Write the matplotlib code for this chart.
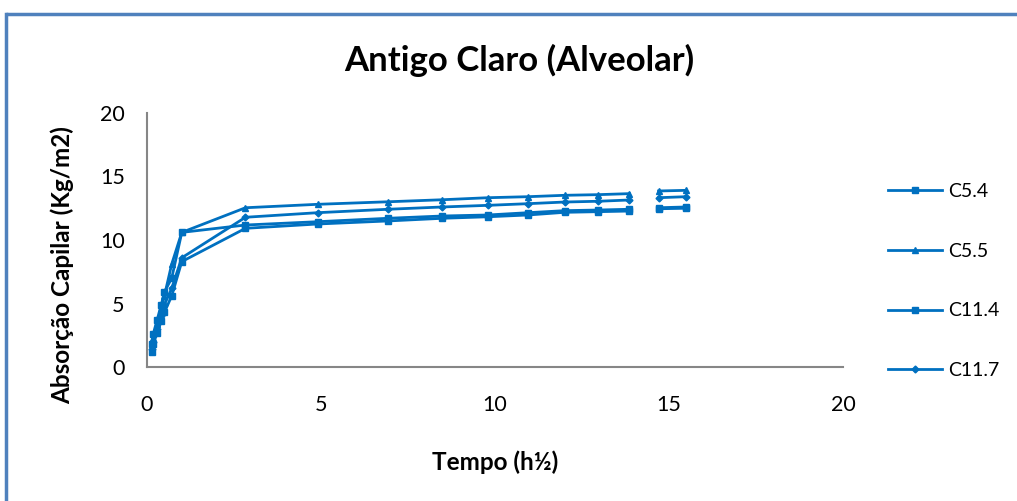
import numpy as np
import matplotlib
matplotlib.use("Agg")
import matplotlib.pyplot as plt
from matplotlib.lines import Line2D

nan = np.nan
tempo = [0.13, 0.18, 0.29, 0.41, 0.50, 0.71, 1.00, 2.83, 4.90, 6.93, 8.49, 9.80,
         10.95, 12.00, 12.96, 13.86, 14.30, 14.70, 15.49]

c54 = [1.2, 1.8, 2.7, 3.6, 4.3, 5.6, 8.3, 10.92, 11.26, 11.50, 11.71, 11.83,
       11.97, 12.18, 12.23, 12.28, nan, 12.46, 12.50]
c55 = [1.6, 2.3, 3.4, 4.6, 5.6, 8.1, 10.6, 12.54, 12.81, 13.01, 13.17, 13.33,
       13.41, 13.52, 13.57, 13.65, nan, 13.86, 13.91]
c114 = [1.8, 2.6, 3.7, 4.9, 5.9, 7.0, 10.6, 11.18, 11.44, 11.71, 11.89, 11.97,
        12.15, 12.31, 12.36, 12.42, nan, 12.54, 12.60]
c117 = [1.4, 2.0, 3.0, 4.0, 4.9, 6.2, 8.6, 11.79, 12.15, 12.42, 12.60, 12.73,
        12.86, 12.99, 13.05, 13.15, nan, 13.33, 13.41]

series = [("C5.4", c54, "s", 5), ("C5.5", c55, "^", 5),
          ("C11.4", c114, "s", 5), ("C11.7", c117, "D", 3.5)]

font = "Lato"
blue = "#0070C0"
W, H = 1017, 501

fig = plt.figure(figsize=(10.17, 5.01), dpi=100)
ax = fig.add_axes([147/W, (H-367)/H, (843-147)/W, (367-113)/H])

for name, vals, mk, ms in series:
    ax.plot(tempo, vals, color=blue, lw=2, marker=mk, ms=ms, label=name)

ax.set_xlim(0, 20)
ax.set_ylim(0, 20)
ax.set_xticks([0, 5, 10, 15, 20])
ax.set_yticks([0, 5, 10, 15, 20])
for s in ["top", "right"]:
    ax.spines[s].set_visible(False)
for s in ["left", "bottom"]:
    ax.spines[s].set_color("#868686")
    ax.spines[s].set_linewidth(1.5)
ax.tick_params(axis="x", length=0, labelsize=15.5, pad=20)
ax.tick_params(axis="y", length=0, labelsize=15.5, pad=16)
for lab in ax.get_xticklabels() + ax.get_yticklabels():
    lab.set_fontfamily(font)

fig.text(495/W, 1-462/H, "Tempo (h½)", ha="center", va="center",
         fontsize=17.5, fontweight="bold", family=font)
fig.text(62/W, 1-265/H, "Absorção Capilar (Kg/m2)", ha="center", va="center",
         rotation=90, fontsize=17.5, fontweight="bold", family=font)
fig.text(519/W, 1-60/H, "Antigo Claro (Alveolar)", ha="center", va="center",
         fontsize=25, fontweight="bold", family=font)

leg = ax.legend(loc="center left", bbox_to_anchor=(870/W, 1-281/H), bbox_transform=fig.transFigure,
                frameon=False, prop={"family": font, "size": 14}, labelspacing=2.2,
                handlelength=2.8, handletextpad=0.3, borderpad=0.4)

fig.add_artist(Line2D([6/W, 1.1], [1-14/H, 1-14/H], transform=fig.transFigure,
                      color="#4F81BD", lw=2.5, solid_capstyle="butt"))
fig.add_artist(Line2D([6/W, 6/W], [-0.1, 1-14/H], transform=fig.transFigure,
                      color="#4F81BD", lw=2.5, solid_capstyle="projecting"))

fig.savefig("out.png", dpi=100)
